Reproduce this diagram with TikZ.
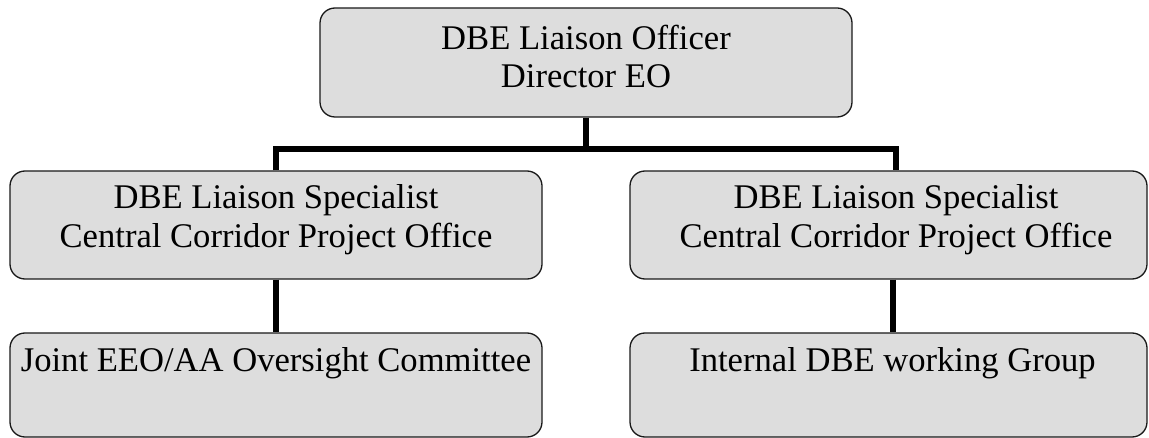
\documentclass[tikz,border=0pt]{standalone}
\usepackage{fontspec}
\setmainfont{Liberation Serif}
\begin{document}
\begin{tikzpicture}[x=1pt,y=-1pt,
  box/.style={draw=black!90, line width=1.3pt, fill=boxgray, rounded corners=15pt,
    rectangle, inner sep=0pt},
  txt/.style={anchor=base, inner sep=0pt, font=\fontsize{34.6}{40}\selectfont},
  conn/.style={line width=5.5pt, line join=miter, line cap=butt}]
\definecolor{boxgray}{HTML}{DDDDDD}
\useasboundingbox (0,0) rectangle (1149,438);
% boxes
\node[box, minimum width=532pt, minimum height=109pt] (top) at (586,62.5) {};
\node[box, minimum width=532pt, minimum height=108pt] (midL) at (276,225) {};
\node[box, minimum width=517pt, minimum height=108pt] (midR) at (888.5,225) {};
\node[box, minimum width=532pt, minimum height=104pt] (lowL) at (276,385) {};
\node[box, minimum width=517pt, minimum height=104pt] (lowR) at (888.5,385) {};
% texts
\node[txt] (t1) at (586,49.5) {DBE Liaison Officer};
\node[txt] (t2) at (586,88) {Director EO};
\node[txt] (t3) at (276,209) {DBE Liaison Specialist};
\node[txt] (t4) at (276,248) {Central Corridor Project Office};
\node[txt] (t5) at (896,209) {DBE Liaison Specialist};
\node[txt] (t6) at (896,248) {Central Corridor Project Office};
\node[txt] (t7) at (276,372) {Joint EEO/AA Oversight Committee};
\node[txt] (t8) at (892.5,372) {Internal DBE working Group};
% connectors
\coordinate (jL) at (276,149);
\coordinate (jR) at (896,149);
\coordinate (cR) at (893,300);
\draw[conn] (top.south) -- (top.south |- jL);
\draw[conn] (midL.north) -- (jL) -- (jR) -- (jR |- midR.north);
\draw[conn] (midL.south) -- (lowL.north);
\draw[conn] (cR |- midR.south) -- (cR |- lowR.north);
\end{tikzpicture}
\end{document}
